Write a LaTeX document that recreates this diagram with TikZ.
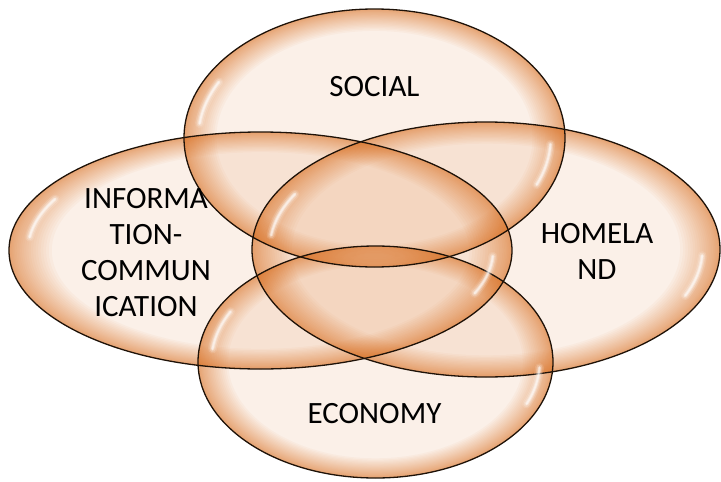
\documentclass[tikz,border=0pt]{standalone}
\usepackage{fontspec}
\setmainfont{Carlito}
\definecolor{vfill}{HTML}{D66919}
\definecolor{rimc}{HTML}{1E1208}
\newcommand\vennshape[4]{%
  \fill[vfill, fill opacity=0.10] (#1,#2) ellipse [x radius=#3, y radius=#4];
  \foreach \k in {0,...,21}{
    \pgfmathsetmacro\t{1-0.17*(1-\k/22)^1.5}
    \fill[vfill, fill opacity=0.038, even odd rule] (#1,#2) ellipse [x radius=#3, y radius=#4] (#1,#2) ellipse [x radius={\t*#3}, y radius={\t*#4}];
  }
}
\begin{document}
\begin{tikzpicture}[x=1pt,y=-1pt,
  vennrim/.style={draw=rimc, line width=1.3pt},
  gloss/.style={draw=white, line cap=round, line width=#1},
  lbl/.style={font=\fontsize{31}{36}\selectfont, inner sep=0pt, align=center, text=black}]
\useasboundingbox (0,0) rectangle (721,482);
% fills
\vennshape{374.5}{138}{190.5}{129}
\vennshape{260.5}{250.5}{251.5}{118.5}
\vennshape{486}{249.5}{234}{127.5}
\vennshape{375.5}{362}{177.5}{116}
% rims
\draw[vennrim] (374.5,138) ellipse [x radius=190.5, y radius=129];
\draw[vennrim] (260.5,250.5) ellipse [x radius=251.5, y radius=118.5];
\draw[vennrim] (486,249.5) ellipse [x radius=234, y radius=127.5];
\draw[vennrim] (375.5,362) ellipse [x radius=177.5, y radius=116];
% gloss highlights
\foreach \cx/\cy/\rx/\ry in {374.5/138/190.5/129, 260.5/250.5/251.5/118.5, 486/249.5/234/127.5, 375.5/362/177.5/116}{
  \foreach \w/\o in {9/0.12, 6/0.22, 3.5/0.35, 1.8/0.5}{
    \draw[gloss=\w pt, draw opacity=\o] ([shift={(\cx,\cy)}]187:{0.925*\rx} and {0.925*\ry}) arc[start angle=187, end angle=208, x radius={0.925*\rx}, y radius={0.925*\ry}];
    \draw[gloss=\w pt, draw opacity=\o] ([shift={(\cx,\cy)}]3:{0.925*\rx} and {0.925*\ry}) arc[start angle=3, end angle=23, x radius={0.925*\rx}, y radius={0.925*\ry}];
  }
}
% labels
\node[lbl, anchor=base] (tsocial) at (374.5,96) {SOCIAL};
\node[lbl, anchor=north] (tinfo) at (146,188) {INFORMA\\TION-\\COMMUN\\ICATION};
\node[lbl, anchor=north] (thome) at (597,223) {HOMELA\\ND};
\node[lbl, anchor=base] (tecon) at (374.5,423) {ECONOMY};
\end{tikzpicture}
\end{document}
